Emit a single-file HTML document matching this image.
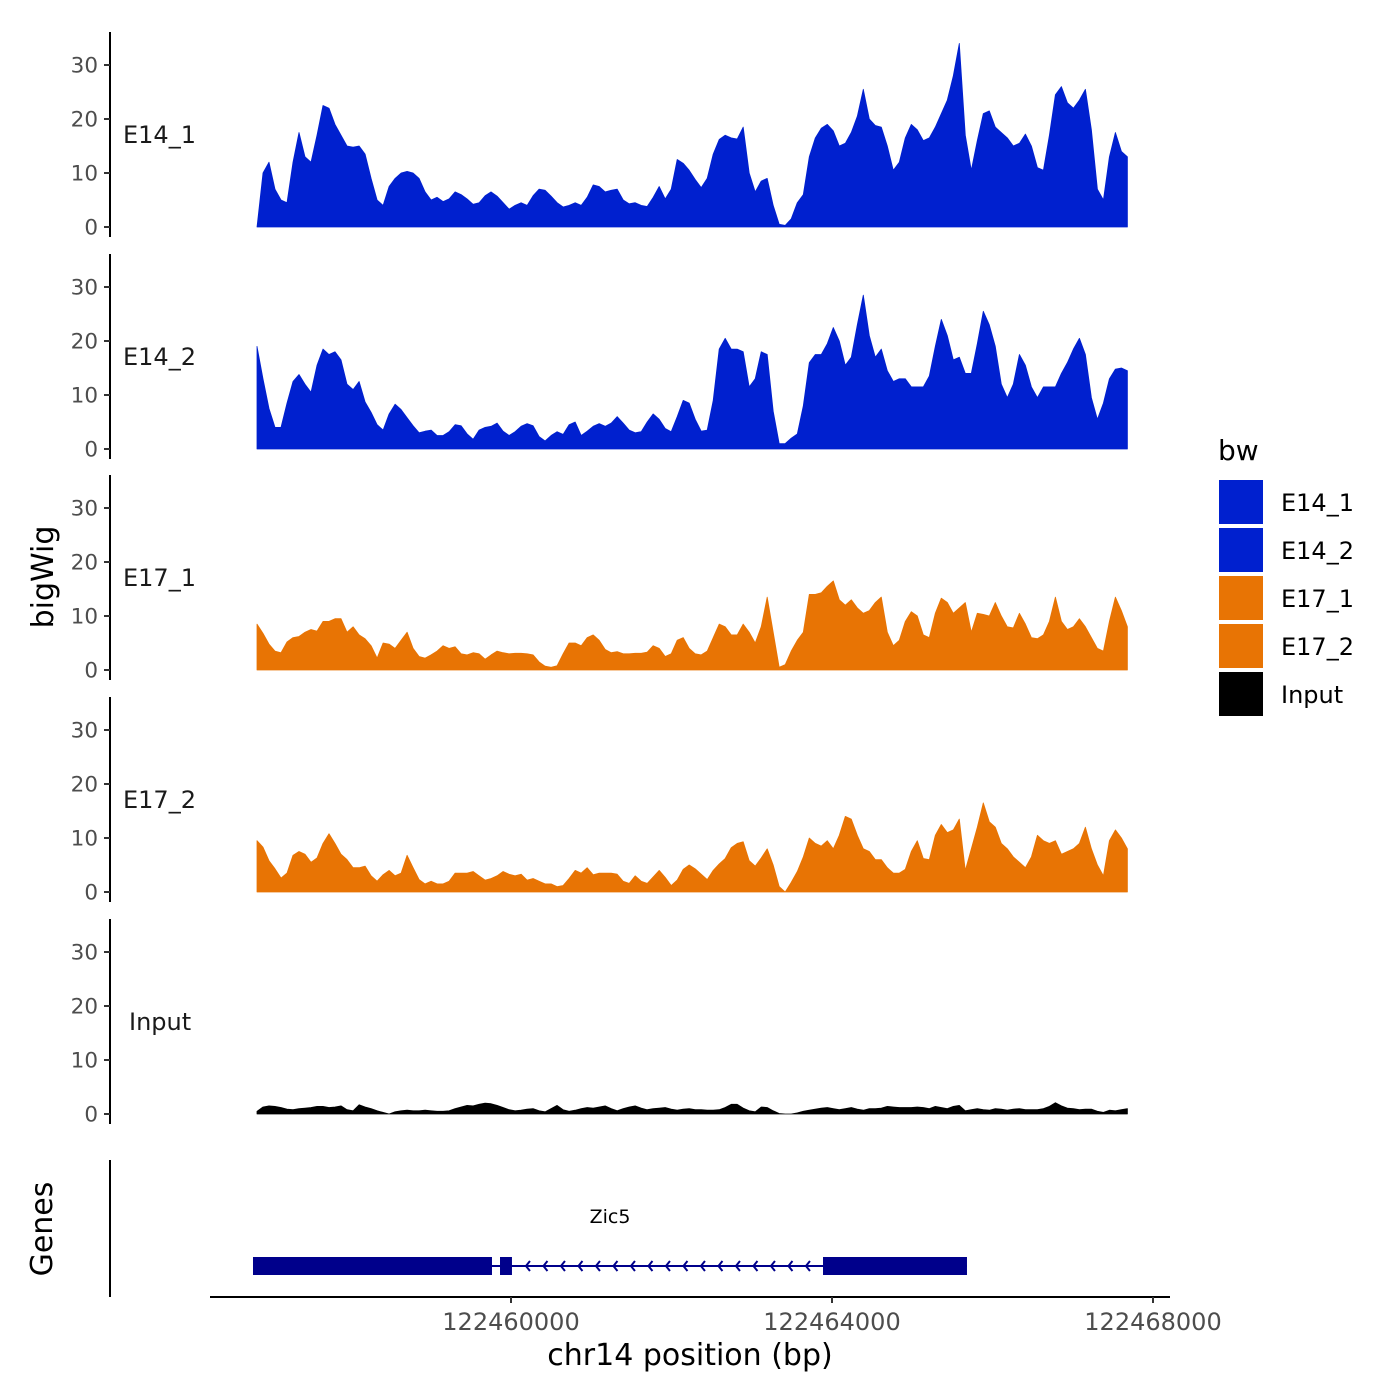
<!DOCTYPE html>
<html><head><meta charset="utf-8"><style>
html,body{margin:0;padding:0;background:#fff;}
svg{display:block;font-family:"DejaVu Sans","Liberation Sans",sans-serif;}
</style></head><body>
<svg id="chart" width="1400" height="1400" viewBox="0 0 1400 1400"></svg>
<script>
const regionStart = 122456835;
const binSize = 74.8;
const trackNames = ["E14_1","E14_2","E17_1","E17_2","Input"];
const trackColors = ["#0020CF","#0020CF","#E87404","#E87404","#000000"];
const yTicks = [0,10,20,30];
const xTicks = [122460000,122464000,122468000];
const xTickLabels = ["122460000","122464000","122468000"];
const e14_1 = [0,10,12,7,5,4.5,12,17.5,13,12,17,22.5,22,19,17,15,14.8,15,13.5,9,5,4,7.5,9,10,10.3,10,9,6.5,5,5.5,4.7,5.2,6.5,6,5.2,4.2,4.5,5.8,6.5,5.7,4.5,3.3,4,4.5,4,5.8,7,6.8,5.7,4.5,3.7,4,4.5,4,5.5,7.8,7.5,6.5,6.8,7,5,4.3,4.5,4,3.8,5.5,7.5,5.2,7,12.5,11.8,10.5,8.8,7.3,9,13.5,16.2,17,16.5,16.3,18.5,10,6.5,8.5,9,4,0.5,0.3,1.5,4.5,6,13,16.5,18.3,19,17.8,15,15.5,17.5,20.5,25.5,20,18.8,18.5,15,10.5,12,16.5,19,18,16,16.5,18.5,21,23.5,28,34,17,10.5,16,21,21.5,18.5,17.5,16.5,15,15.5,17.2,15,11,10.5,17,24.5,26,23,22,23.5,25.5,18,7,5,13,17.5,14,13];
const e14_2 = [19,13,7.5,4,4,8.5,12.5,13.8,12,10.5,15.5,18.5,17.5,18,16.5,12,11,12.5,8.7,6.8,4.5,3.5,6.5,8.3,7.3,5.8,4.3,3,3.3,3.5,2.5,2.5,3.2,4.5,4.3,2.8,1.8,3.5,4,4.2,4.8,3.3,2.5,3.2,4.2,4.7,4.3,2.3,1.5,2.5,3.2,2.7,4.5,5,2.5,3.3,4.2,4.7,4.2,4.8,6,4.8,3.5,3,3.2,5,6.5,5.5,3.8,3.2,6,9,8.5,5.5,3.3,3.5,9,18.5,20.5,18.5,18.5,18,11.5,13,18,17.5,7,1,1,2,2.8,8,16,17.5,17.5,19.5,22.5,20,15.5,17,23,28.5,21,17,18.5,14.5,12.5,13,13,11.5,11.5,11.5,13.5,19,24,21,16.5,17,14,14,19.5,25.5,23,19,12,9.5,12,17.5,15.5,11.5,9.5,11.5,11.5,11.5,14,16,18.5,20.5,17.5,9.5,5.5,8.5,13,14.8,15,14.5];
const e17_1 = [8.5,6.8,4.8,3.5,3.2,5.2,6,6.2,7,7.5,7.2,9,9,9.5,9.5,7,8,6.5,5.8,4.5,2.2,5,4.8,4,5.5,7,4,2.5,2.2,2.8,3.5,4.5,4,4.3,3,2.8,3.2,3,2,2.8,3.5,3.2,3,3.1,3.1,3,2.8,1.5,0.7,0.5,0.8,3,5,5,4.5,6,6.5,5.5,3.8,3.2,3.4,3,3,3.1,3.1,3.3,4.5,4,2.5,3,5.5,6,4,3,2.8,3.5,6,8.5,8,6.5,6.5,8.5,7,5,8,13.5,7,0.5,1,3.5,5.5,7,14,14,14.3,15.5,16.5,13,12,13,11.5,10.5,11,12.5,13.5,7,4.5,5.5,9,10.8,10,6.5,6,10.5,13.3,12.5,10.5,11.5,12.5,7,10.5,10.3,10,12.5,10,8,7.8,10.5,8.5,6,5.8,6.5,9,13.5,9,7.5,8,9.5,8,6,4,3.5,9,13.5,11,8];
const e17_2 = [9.5,8.3,5.8,4.3,2.6,3.5,6.8,7.5,7,5.5,6.3,9,10.8,9,7,6,4.5,4.5,4.8,3,2,3.2,4,3,3.5,6.8,4.5,2.3,1.5,2,1.5,1.5,2,3.5,3.5,3.5,3.8,3,2.2,2.5,3,3.8,3.3,3,3.3,2.2,2.5,2,1.5,1.5,1,1.2,2.5,4,3.5,4.5,3.2,3.5,3.5,3.5,3.3,2,1.6,3,2,1.6,2.8,4,2.7,1.2,2.2,4.2,5,4.3,3.3,2.3,4,5.2,6.2,8.2,9,9.3,5.8,4.8,6.3,8,5,1,0,1.8,3.8,6.5,10,9,8.5,9.5,8,10.5,14,13.5,10.5,8,7.5,6,6,4.5,3.5,3.5,4.2,7.5,9.5,6.2,6,10.5,12.5,11,11.5,13.5,4,8,12,16.5,13,12,9,8,6.5,5.5,4.5,6.5,10.5,9.5,9,9.5,7,7.5,8,9,12,8,5,3,9.5,11.5,10,8];
const input = [0.5,1.3,1.5,1.4,1.2,0.9,0.8,1,1.1,1.2,1.4,1.4,1.2,1.3,1.5,0.8,0.6,1.7,1.3,1,0.6,0.3,0,0.4,0.6,0.7,0.6,0.6,0.7,0.6,0.5,0.5,0.6,1,1.3,1.6,1.5,1.8,2,1.9,1.6,1.2,0.8,0.6,0.7,0.9,1,0.6,0.4,1,1.6,0.8,0.5,0.7,1,1.2,1.1,1.3,1.5,1,0.6,1,1.3,1.5,1.1,0.8,1,1.1,1.2,0.9,0.7,0.9,1,0.8,0.8,0.7,0.7,0.8,1.2,1.8,1.8,1.1,0.6,0.4,1.3,1.2,0.6,0.1,0,0,0.2,0.5,0.7,0.9,1.1,1.2,1,0.8,1,1.2,0.9,0.7,1,1,1.1,1.4,1.3,1.2,1.2,1.2,1.3,1.2,1,1.4,1.2,1,1.4,1.6,0.6,0.8,1,0.8,0.7,1,0.9,0.7,0.9,1,0.8,0.8,0.8,1,1.4,2.1,1.5,1.1,1,0.8,0.9,0.9,0.5,0.3,0.7,0.6,0.8,1];
const trackValues = [e14_1,e14_2,e17_1,e17_2,input];
const geneName = "Zic5";
const geneStart = 122456785, geneEnd = 122465682;
const exonStarts = [122456785,122459863,122463888];
const exonEnds = [122459763,122460012,122465682];

const NS="http://www.w3.org/2000/svg";
const svg=document.getElementById('chart');
function mk(tag,attrs,parent){const e=document.createElementNS(NS,tag);for(const k in attrs)e.setAttribute(k,attrs[k]);(parent||svg).appendChild(e);return e;}
function xs(bp){return 511+(bp-122460000)*80.25/1000;}
const panelZero=[227,449,670,892,1114];
const pxPerUnit=5.4;
function ys(p,v){return panelZero[p]-v*pxPerUnit;}

trackNames.forEach((name,p)=>{
  const g=mk('g',{});
  
  
  const vals=trackValues[p];
  let d='M'+xs(regionStart)+','+ys(p,0);
  vals.forEach((v,i)=>{d+=' L'+xs(regionStart+i*binSize).toFixed(1)+','+ys(p,v).toFixed(1);});
  d+=' L'+xs(regionStart+(vals.length-1)*binSize).toFixed(1)+','+ys(p,0)+' Z';
  const area=mk('path',{d:d,fill:trackColors[p],'stroke':trackColors[p],'stroke-width':0.8,'stroke-linejoin':'round'},g);
  
  
  const top=ys(p,0)-195, bot=ys(p,0)+10;
  const ax=mk('line',{x1:110,x2:110,y1:top,y2:bot,stroke:'#000','stroke-width':2},g);
  
  
  yTicks.forEach(t=>{
    const y=ys(p,t);
    mk('line',{x1:104,x2:110,y1:y,y2:y,stroke:'#333','stroke-width':2},g);
    const tx=mk('text',{x:98,y:y+7.5,'text-anchor':'end','font-size':21.5,fill:'#4d4d4d'},g);
    tx.textContent=t;
    
    
  });
  const lb=mk('text',{x:p===4?129:123,y:ys(p,0)-84,'font-size':24,fill:'#1a1a1a'},g);
  lb.textContent=name;
  
  
});

// gene track
const gg=mk('g',{});


const gy=1266;
mk('line',{x1:xs(geneStart),x2:xs(geneEnd),y1:gy,y2:gy,stroke:'#00008B','stroke-width':2},gg);
for(let x=xs(exonEnds[1])+14;x<xs(exonStarts[2])-4;x+=17.5){
  mk('polyline',{points:(x+4)+','+(gy-5)+' '+x+','+gy+' '+(x+4)+','+(gy+5),fill:'none',stroke:'#00008B','stroke-width':2},gg);
}
exonStarts.forEach((s,i)=>{
  const r=mk('rect',{x:xs(s),y:gy-9,width:xs(exonEnds[i])-xs(s),height:18,fill:'#00008B'},gg);
  
  
});
const gl=mk('text',{x:610,y:1223,'text-anchor':'middle','font-size':19,fill:'#000'},gg);
gl.textContent=geneName;


const gax=mk('line',{x1:110,x2:110,y1:1160,y2:1297,stroke:'#000','stroke-width':2});



// x axis
const xa=mk('line',{x1:210,x2:1170,y1:1297,y2:1297,stroke:'#000','stroke-width':2});


xTicks.forEach((t,i)=>{
  const x=xs(t);
  mk('line',{x1:x,x2:x,y1:1297,y2:1303,stroke:'#333','stroke-width':2});
  const tx=mk('text',{x:x,y:1330,'text-anchor':'middle','font-size':24,fill:'#4d4d4d'});
  tx.textContent=xTickLabels[i];
  
  
});
</script>
<svg style="position:absolute;left:0;top:0" width="1400" height="1400">
<text x="690" y="1365" text-anchor="middle" font-size="30" font-family="DejaVu Sans, sans-serif">chr14 position (bp)</text>
<text transform="translate(53,577) rotate(-90)" text-anchor="middle" font-size="30" font-family="DejaVu Sans, sans-serif">bigWig</text>
<text transform="translate(52,1229) rotate(-90)" text-anchor="middle" font-size="30" font-family="DejaVu Sans, sans-serif">Genes</text>
<g font-family="DejaVu Sans, sans-serif">
<text x="1218" y="460" font-size="28">bw</text>
<rect x="1219" y="480" width="44" height="44" fill="#0020CF"/>
<text x="1281" y="511" font-size="24">E14_1</text>
<rect x="1219" y="528" width="44" height="44" fill="#0020CF"/>
<text x="1281" y="559" font-size="24">E14_2</text>
<rect x="1219" y="576" width="44" height="44" fill="#E87404"/>
<text x="1281" y="607" font-size="24">E17_1</text>
<rect x="1219" y="624" width="44" height="44" fill="#E87404"/>
<text x="1281" y="655" font-size="24">E17_2</text>
<rect x="1219" y="672" width="44" height="44" fill="#000"/>
<text x="1281" y="703" font-size="24">Input</text>
</g>
</svg>
</body></html>
